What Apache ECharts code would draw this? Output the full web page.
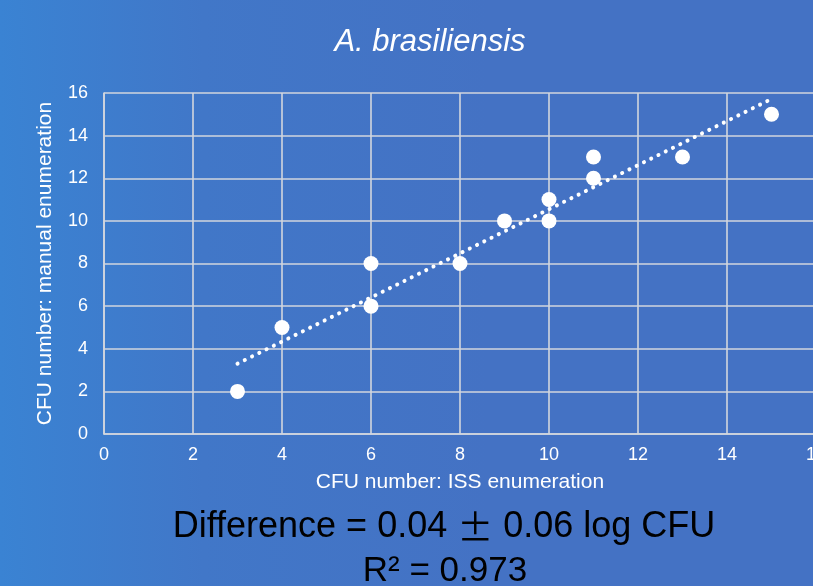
<!DOCTYPE html>
<html><head><meta charset="utf-8">
<style>html,body{margin:0;padding:0;}#c{width:813px;height:586px;}</style>
<script src="https://cdn.jsdelivr.net/npm/echarts@6/dist/echarts.min.js"></script>
</head><body><div id="c"></div>
<script>
const issCounts = [3, 4, 6, 6, 8, 9, 10, 10, 11, 11, 13, 15];
const manualCounts = [2, 5, 8, 6, 8, 10, 11, 10, 13, 12, 13, 15];
const trendX = [3, 15];
const trendY = [3.3, 15.72];
const xTicks = [0, 2, 4, 6, 8, 10, 12, 14, 16];
const yTicks = [0, 2, 4, 6, 8, 10, 12, 14, 16];

const font = '"Liberation Sans", Arial, Helvetica, sans-serif';
const chart = echarts.init(document.getElementById('c'));
const gridStyle = {color: '#d2d6de', width: 1.6};
chart.setOption({
  backgroundColor: {
    type: 'linear', x: 0, y: 0, x2: 1, y2: 0,
    colorStops: [
      {offset: 0, color: '#3a83d3'},
      {offset: 0.25, color: '#4177c8'},
      {offset: 0.6, color: '#4472c4'},
      {offset: 1, color: '#4472c4'}
    ]
  },
  animation: false,
  grid: {left: 104, top: 93, width: 712, height: 341, containLabel: false, outerBoundsMode: 'none'},
  xAxis: {
    type: 'value', min: 0, max: 16, interval: 2,
    name: 'CFU number: ISS enumeration', nameLocation: 'middle', nameGap: 38,
    nameTextStyle: {color: '#fff', fontSize: 21, fontFamily: font},
    axisLine: {show: true, lineStyle: gridStyle},
    axisTick: {show: false},
    axisLabel: {color: '#fff', fontSize: 18, fontFamily: font, margin: 12,
      formatter: v => xTicks.includes(v) ? String(v) : ''},
    splitLine: {show: true, lineStyle: gridStyle}
  },
  yAxis: {
    type: 'value', min: 0, max: 16, interval: 2,
    name: 'CFU number: manual enumeration', nameLocation: 'middle', nameGap: 48,
    nameTextStyle: {color: '#fff', fontSize: 21, fontFamily: font},
    axisLine: {show: true, lineStyle: gridStyle},
    axisTick: {show: false},
    axisLabel: {color: '#fff', fontSize: 18, fontFamily: font, margin: 16,
      formatter: v => yTicks.includes(v) ? String(v) : ''},
    splitLine: {show: true, lineStyle: gridStyle}
  },
  graphic: [
    {type: 'text', x: 430, y: 42, style: {text: 'A. brasiliensis', fill: '#fff',
      font: 'italic 31px ' + font, textAlign: 'center', textVerticalAlign: 'middle'}},
    {type: 'text', x: 444, y: 527, style: {
      text: '{a|Difference = 0.04 }{b|\u00B1}{a| 0.06 log CFU}',
      textAlign: 'center', textVerticalAlign: 'middle',
      rich: {
        a: {fill: '#000', fontSize: 36, fontFamily: font},
        b: {fill: '#000', fontSize: 36, fontFamily: '"Noto Sans CJK JP"'}
      }}},
    {type: 'text', x: 445, y: 571, style: {text: 'R\u00B2 = 0.973', fill: '#000',
      font: '35px ' + font, textAlign: 'center', textVerticalAlign: 'middle'}}
  ],
  series: [
    {
      type: 'line', data: trendX.map((x, i) => [x, trendY[i]]),
      symbol: 'none', z: 3,
      lineStyle: {color: '#fff', width: 4, type: [0.1, 8], cap: 'round'}
    },
    {
      type: 'scatter', data: issCounts.map((x, i) => [x, manualCounts[i]]),
      symbolSize: 15, z: 4,
      itemStyle: {color: '#fff', opacity: 1}
    }
  ]
});
</script></body></html>
